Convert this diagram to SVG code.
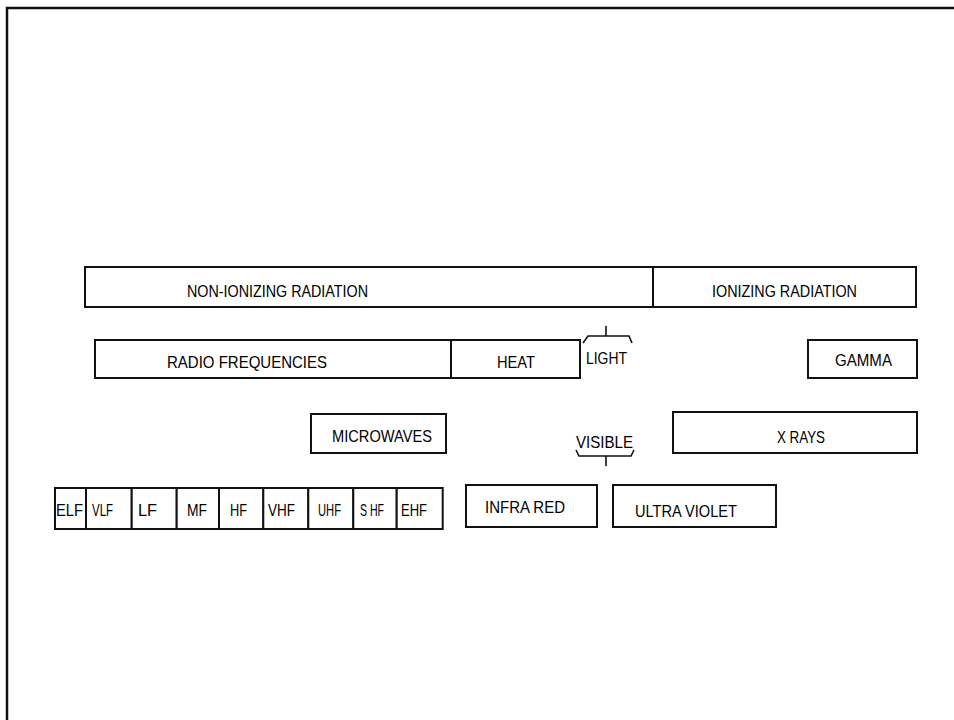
<svg xmlns="http://www.w3.org/2000/svg" width="954" height="720" viewBox="0 0 954 720">
<style>
.box{fill:#fff;stroke:#111;stroke-width:2}
.ln{fill:none;stroke:#111;stroke-width:1.6}
text{font-family:"Liberation Sans",Arial,sans-serif;font-size:17px;fill:#000}
</style>
<rect x="0" y="0" width="954" height="720" fill="#fff"/>
<rect id="frame" x="7" y="8" width="980" height="740" fill="none" stroke="#111" stroke-width="2.5"/>

<g id="non-ionizing">
<rect class="box" x="85" y="267" width="568" height="40"/>
<text x="187" y="297" textLength="181" lengthAdjust="spacingAndGlyphs">NON-IONIZING RADIATION</text>
</g>
<g id="ionizing">
<rect class="box" x="653" y="267" width="263" height="40"/>
<text x="712" y="297" textLength="145" lengthAdjust="spacingAndGlyphs">IONIZING RADIATION</text>
</g>

<g id="radio">
<rect class="box" x="95" y="340" width="356" height="38"/>
<text x="167" y="368" textLength="160" lengthAdjust="spacingAndGlyphs">RADIO  FREQUENCIES</text>
</g>
<g id="heat">
<rect class="box" x="451" y="340" width="129" height="38"/>
<text x="497" y="368" textLength="38" lengthAdjust="spacingAndGlyphs">HEAT</text>
</g>
<g id="light">
<text x="586" y="364" textLength="41" lengthAdjust="spacingAndGlyphs">LIGHT</text>
</g>
<g id="gamma">
<rect class="box" x="808" y="340" width="109" height="38"/>
<text x="835" y="366" textLength="57" lengthAdjust="spacingAndGlyphs">GAMMA</text>
</g>

<g id="microwaves">
<rect class="box" x="311" y="414" width="135" height="39"/>
<text x="332" y="442" textLength="100" lengthAdjust="spacingAndGlyphs">MICROWAVES</text>
</g>
<g id="visible">
<text x="576" y="448" textLength="57" lengthAdjust="spacingAndGlyphs">VISIBLE</text>
</g>
<g id="xrays">
<rect class="box" x="673" y="412" width="244" height="41"/>
<text x="777" y="443" textLength="48" lengthAdjust="spacingAndGlyphs">X RAYS</text>
</g>

<g id="bands">
<g id="elf"><rect class="box" x="55" y="488" width="31" height="41"/><text x="56" y="516" textLength="27" lengthAdjust="spacingAndGlyphs">ELF</text></g>
<g id="vlf"><rect class="box" x="86" y="488" width="45.7" height="41"/><text x="92" y="516" textLength="21" lengthAdjust="spacingAndGlyphs">VLF</text></g>
<g id="lf"><rect class="box" x="131.7" y="488" width="45" height="41"/><text x="138" y="516" textLength="19" lengthAdjust="spacingAndGlyphs">LF</text></g>
<g id="mf"><rect class="box" x="176.7" y="488" width="42.3" height="41"/><text x="187" y="516" textLength="20" lengthAdjust="spacingAndGlyphs">MF</text></g>
<g id="hf"><rect class="box" x="219" y="488" width="44.3" height="41"/><text x="230" y="516" textLength="17" lengthAdjust="spacingAndGlyphs">HF</text></g>
<g id="vhf"><rect class="box" x="263.3" y="488" width="45" height="41"/><text x="268" y="516" textLength="27" lengthAdjust="spacingAndGlyphs">VHF</text></g>
<g id="uhf"><rect class="box" x="308.3" y="488" width="45" height="41"/><text x="318" y="516" textLength="23" lengthAdjust="spacingAndGlyphs">UHF</text></g>
<g id="shf"><rect class="box" x="353.3" y="488" width="43.4" height="41"/><text x="360" y="516" textLength="24" lengthAdjust="spacingAndGlyphs">S HF</text></g>
<g id="ehf"><rect class="box" x="396.7" y="488" width="46" height="41"/><text x="401" y="516" textLength="26" lengthAdjust="spacingAndGlyphs">EHF</text></g>
</g>

<g id="infrared">
<rect class="box" x="466" y="485" width="131" height="42"/>
<text x="485" y="513" textLength="80" lengthAdjust="spacingAndGlyphs">INFRA RED</text>
</g>
<g id="ultraviolet">
<rect class="box" x="613" y="485" width="163" height="42"/>
<text x="635" y="517" textLength="102" lengthAdjust="spacingAndGlyphs">ULTRA VIOLET</text>
</g>

<g id="connectors">
<path class="ln" d="M583 343 L588 336 L629 336 L632 343 M606 336 L606 326"/>
<path class="ln" d="M576 450 L579 456 L631 456 L634 450 M606 456 L606 466"/>
</g>
</svg>
